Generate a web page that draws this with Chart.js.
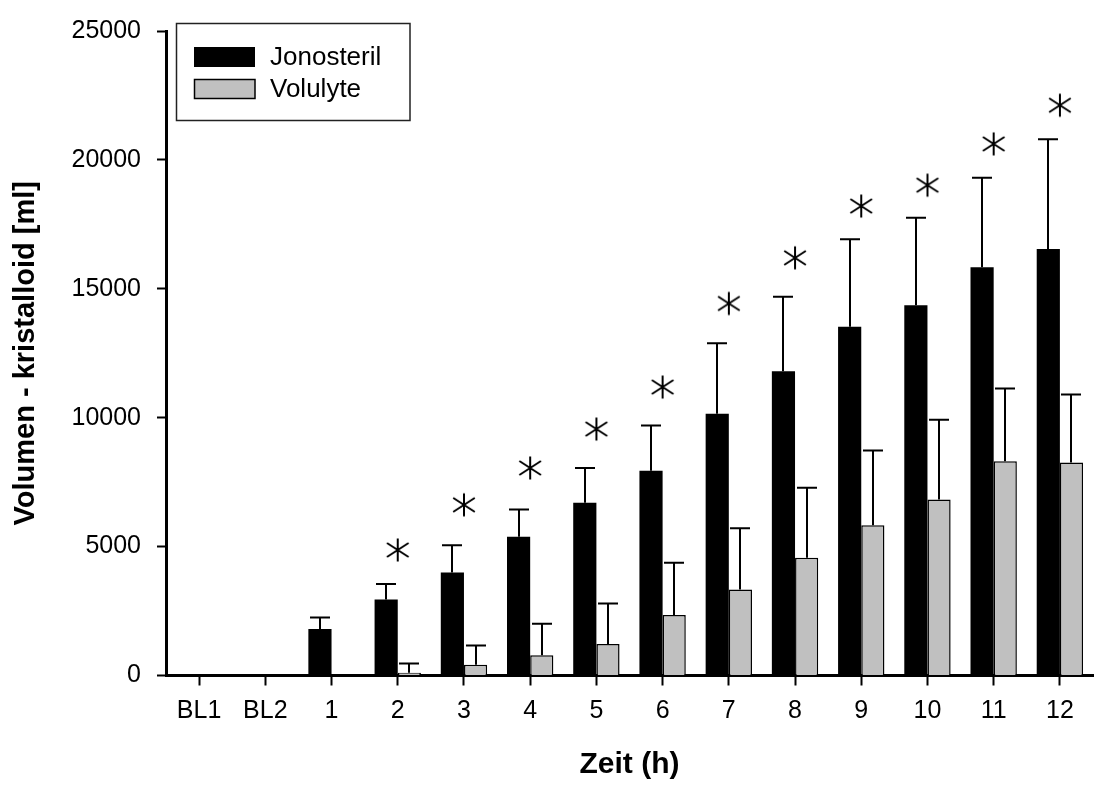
<!DOCTYPE html>
<html><head><meta charset="utf-8">
<script src="https://cdn.jsdelivr.net/npm/chart.js@4/dist/chart.umd.min.js"></script>
<style>html,body{margin:0;padding:0;overflow:hidden;background:#fff;width:1099px;height:787px}canvas{display:block}</style>
</head><body>
<canvas id="c" width="1105" height="787" style="width:1105px;height:787px"></canvas>
<script>
const categories = ['BL1','BL2','1','2','3','4','5','6','7','8','9','10','11','12'];
const jonosterilMean = [0,0,1800,2950,4000,5380,6700,7940,10150,11800,13530,14360,15840,16540];
const jonosterilSD   = [0,0,450,600,1050,1060,1350,1760,2740,2890,3390,3400,3470,4260];
const volulyteMean   = [0,0,0,110,415,790,1220,2350,3340,4570,5830,6830,8310,8260];
const volulyteSD     = [0,0,0,360,745,1220,1570,2020,2370,2710,2900,3090,2820,2640];
const significance   = [null,null,null,4870,6620,8050,9560,11190,14430,16200,18210,19020,20620,22120];
const yTicks = [0,5000,10000,15000,20000,25000];
const seriesNames = ['Jonosteril','Volulyte'];
const seriesColors = ['#000000','#c0c0c0'];

const FONT = '"Liberation Sans", Arial, Helvetica, sans-serif';
Chart.defaults.font.family = FONT;
Chart.defaults.color = '#000';

// six-armed asterisk marker
const star = document.createElement('canvas');
star.width = 26; star.height = 26;
(function(){
  const g = star.getContext('2d');
  g.strokeStyle = '#000'; g.lineWidth = 2; g.lineCap = 'butt';
  const cx = 13, cy = 13;
  g.beginPath();
  g.moveTo(cx, cy - 11.5); g.lineTo(cx, cy + 11.5);
  g.moveTo(cx - 10.8, cy - 7); g.lineTo(cx + 10.8, cy + 7);
  g.moveTo(cx - 10.8, cy + 7); g.lineTo(cx + 10.8, cy - 7);
  g.stroke();
})();

const errorBars = {
  id: 'errorBars',
  afterDatasetsDraw(chart) {
    const ctx = chart.ctx, y = chart.scales.y;
    ctx.save();
    ctx.strokeStyle = '#000'; ctx.lineWidth = 2;
    chart.data.datasets.forEach((ds, di) => {
      if (!ds.sd) return;
      const meta = chart.getDatasetMeta(di);
      meta.data.forEach((el, i) => {
        const sd = ds.sd[i];
        if (!sd) return;
        const x = Math.round(el.x);
        const top = y.getPixelForValue(ds.data[i] + sd);
        const base = y.getPixelForValue(ds.data[i]);
        ctx.beginPath();
        ctx.moveTo(x, base); ctx.lineTo(x, top);
        ctx.moveTo(x - 10, top); ctx.lineTo(x + 10, top);
        ctx.stroke();
      });
    });
    ctx.restore();
  }
};

const boxLegend = {
  id: 'boxLegend',
  afterDraw(chart) {
    const ctx = chart.ctx;
    ctx.save();
    ctx.fillStyle = '#fff';
    ctx.fillRect(176.5, 23.5, 233.5, 97);
    ctx.strokeStyle = '#222'; ctx.lineWidth = 1.5;
    ctx.strokeRect(176.5, 23.5, 233.5, 97);
    const rows = [57, 89];
    chart.data.datasets.slice(0, 2).forEach((ds, i) => {
      const cy = rows[i];
      ctx.fillStyle = ds.backgroundColor;
      ctx.fillRect(194, cy - 10, 61, 20);
      if (i === 1) { ctx.strokeStyle = '#000'; ctx.lineWidth = 1.5; ctx.strokeRect(194.5, cy - 9.5, 60.5, 19); }
      ctx.fillStyle = '#000';
      ctx.font = '26px ' + FONT;
      ctx.textBaseline = 'middle'; ctx.textAlign = 'left';
      ctx.fillText(ds.label, 270, cy + 1);
    });
    ctx.restore();
  }
};

new Chart(document.getElementById('c'), {
  type: 'bar',
  data: {
    labels: categories,
    datasets: [
      { label: seriesNames[0], data: jonosterilMean, sd: jonosterilSD, backgroundColor: seriesColors[0], borderColor: '#000', borderWidth: 0, order: 2 },
      { label: seriesNames[1], data: volulyteMean, sd: volulyteSD, backgroundColor: seriesColors[1], borderColor: '#000', borderWidth: 1.5, borderSkipped: 'bottom', order: 2 },
      { type: 'line', label: '*', data: significance, showLine: false, pointStyle: star, pointRadius: 11, pointHoverRadius: 11, order: 1 }
    ]
  },
  options: {
    responsive: false,
    animation: false,
    events: [],
    categoryPercentage: 0.7,
    barPercentage: 1.0,
    layout: { padding: { left: 0, right: 0, top: 25, bottom: 0 } },
    plugins: { legend: { display: false }, tooltip: { enabled: false } },
    scales: {
      x: {
        z: 1,
        grid: { offset: false, drawOnChartArea: false, drawTicks: true, tickLength: 10, tickWidth: 2, tickColor: '#000' },
        border: { display: true, width: 3, color: '#000' },
        ticks: { font: { size: 25 }, padding: 11, color: '#000', maxRotation: 0, autoSkip: false },
        title: { display: true, text: 'Zeit (h)', font: { size: 30, weight: 'bold' }, color: '#000', padding: { top: 0, bottom: 4 } },
        afterFit: (s) => { s.height = 111.5; }
      },
      y: {
        min: yTicks[0], max: yTicks[yTicks.length - 1],
        afterBuildTicks: (s) => { s.ticks = yTicks.map(v => ({ value: v })); },
        grid: { drawOnChartArea: false, drawTicks: true, tickLength: 9, tickWidth: 2, tickColor: '#000' },
        border: { display: true, width: 3, color: '#000' },
        ticks: { font: { size: 25 }, padding: 16, color: '#000', callback: (v) => String(v) },
        title: { display: true, text: 'Volumen - kristalloid [ml]', font: { size: 29, weight: 'bold' }, color: '#000', padding: { top: 9, bottom: 0 } },
        afterFit: (s) => { s.width = 166; }
      }
    }
  },
  plugins: [errorBars, boxLegend]
});
</script>
</body></html>
